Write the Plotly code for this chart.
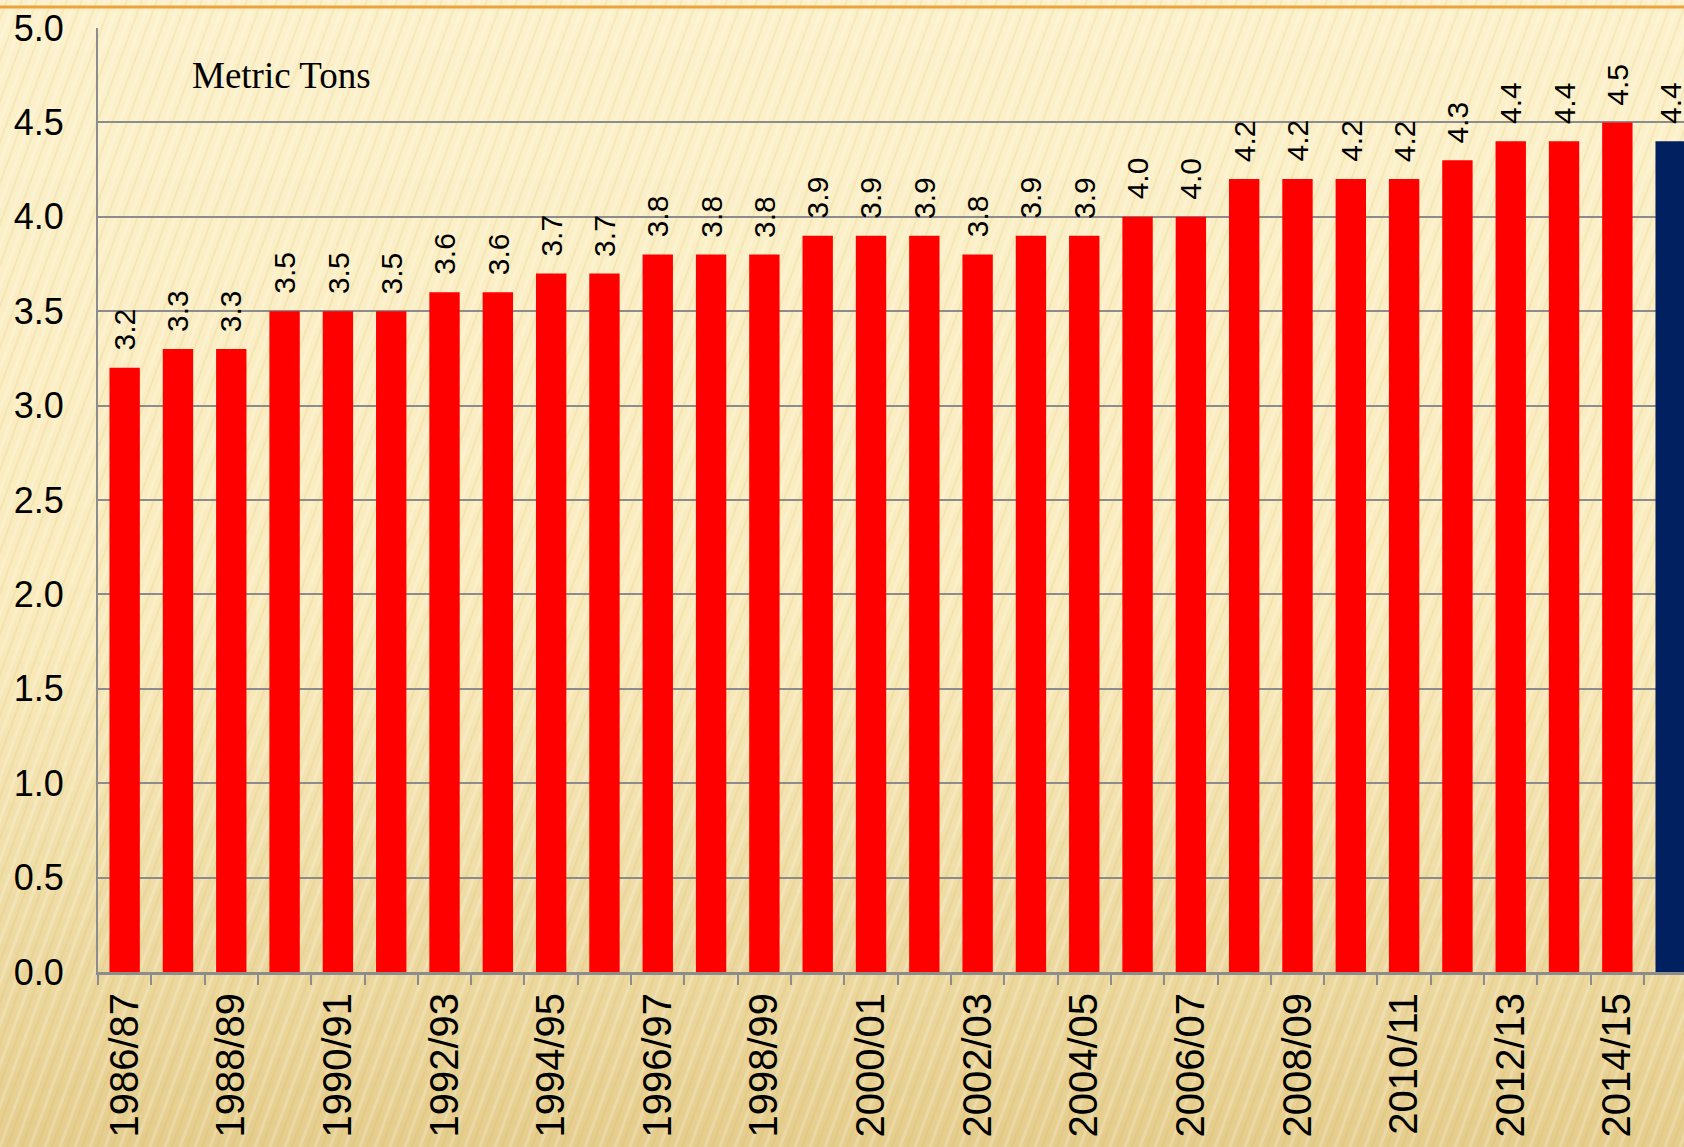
import plotly.graph_objects as go

categories = ["1986/87", "1987/88", "1988/89", "1989/90", "1990/91", "1991/92",
              "1992/93", "1993/94", "1994/95", "1995/96", "1996/97", "1997/98",
              "1998/99", "1999/00", "2000/01", "2001/02", "2002/03", "2003/04",
              "2004/05", "2005/06", "2006/07", "2007/08", "2008/09", "2009/10",
              "2010/11", "2011/12", "2012/13", "2013/14", "2014/15", "2015/16"]
values = [3.2, 3.3, 3.3, 3.5, 3.5, 3.5, 3.6, 3.6, 3.7, 3.7, 3.8, 3.8, 3.8, 3.9,
          3.9, 3.9, 3.8, 3.9, 3.9, 4.0, 4.0, 4.2, 4.2, 4.2, 4.2, 4.3, 4.4, 4.4,
          4.5, 4.4]
ytick_vals = [0.0, 0.5, 1.0, 1.5, 2.0, 2.5, 3.0, 3.5, 4.0, 4.5, 5.0]
unit_label = "Metric Tons"

RED = "#FF0000"
NAVY = "#002060"
GRID = "#8C8C8C"
bar_colors = [RED] * (len(values) - 1) + [NAVY]
tick_text = [c if i % 2 == 0 else "" for i, c in enumerate(categories)]

W, H = 1684, 1147
ML, MT, MB, MR = 98, 28, 175, 0
PW, PH = W - ML - MR, H - MT - MB


def px_x(x):
    return (x - ML) / PW


def px_y(y):
    return (H - MB - y) / PH


fig = go.Figure()
fig.add_trace(go.Bar(
    x=categories, y=values,
    marker=dict(color=bar_colors, line=dict(width=0)),
    hoverinfo="x+y",
))

# data labels
for c, v in zip(categories, values):
    fig.add_annotation(
        x=c, y=v, text=f"{v:.1f}", textangle=-90, showarrow=False,
        xanchor="center", yanchor="bottom", yshift=15,
        font=dict(family="Liberation Sans, Arial", size=30, color="black"),
    )

fig.add_annotation(
    xref="paper", yref="paper",
    x=px_x(281), y=px_y(75),
    text=unit_label, showarrow=False, xanchor="center", yanchor="middle",
    font=dict(family="Liberation Serif, Times New Roman", size=37, color="black"),
)


# background gradient
def lerp(a, b, t):
    return tuple(round(a[i] + (b[i] - a[i]) * t) for i in range(3))


top_c = (252, 241, 203)
mid_c = (250, 236, 190)
bot_c = (229, 205, 140)
n = 90
shapes = []
for k in range(n):
    t = (k + 0.5) / n
    if t < 0.5:
        col = lerp(top_c, mid_c, t / 0.5)
    else:
        col = lerp(mid_c, bot_c, ((t - 0.5) / 0.5) ** 1.2)
    py0 = k / n * H
    py1 = (k + 1) / n * H + 1
    shapes.append(dict(
        type="rect", xref="paper", yref="paper", layer="below",
        x0=px_x(0), x1=px_x(W),
        y0=px_y(py1), y1=px_y(py0),
        fillcolor="rgb(%d,%d,%d)" % col, line=dict(width=0),
    ))

# subtle diagonal texture
dx = 420
xs = -dx
while xs < W + 20:
    shapes.append(dict(
        type="line", xref="paper", yref="paper", layer="below",
        x0=px_x(xs), y0=px_y(H), x1=px_x(xs + dx), y1=px_y(0),
        line=dict(color="rgba(255,255,255,0.22)", width=3),
    ))
    shapes.append(dict(
        type="line", xref="paper", yref="paper", layer="below",
        x0=px_x(xs + 7), y0=px_y(H), x1=px_x(xs + 7 + dx), y1=px_y(0),
        line=dict(color="rgba(190,160,80,0.10)", width=2),
    ))
    xs += 15

# orange rule at top
shapes.append(dict(
    type="line", xref="paper", yref="paper", layer="above",
    x0=px_x(0), x1=px_x(W), y0=px_y(7), y1=px_y(7),
    line=dict(color="#EFA236", width=3),
))

fig.update_layout(
    width=W, height=H,
    margin=dict(l=ML, r=MR, t=MT, b=MB, pad=0),
    paper_bgcolor="rgb(%d,%d,%d)" % bot_c,
    plot_bgcolor="rgba(0,0,0,0)",
    bargap=0.43,
    showlegend=False,
    shapes=shapes,
    font=dict(family="Liberation Sans, Arial", color="black"),
)
fig.update_xaxes(
    type="category",
    range=[-0.5, 29.25],
    tickmode="array", tickvals=categories, ticktext=tick_text,
    tickangle=-90, tickson="boundaries",
    ticks="outside", ticklen=10, tickwidth=2, tickcolor=GRID,
    showline=True, linecolor=GRID, linewidth=3,
    showgrid=False, zeroline=False,
    ticklabelstandoff=2,
    tickfont=dict(family="Liberation Sans, Arial", size=40, color="black"),
)
fig.update_yaxes(
    range=[0, 5], tickmode="array", tickvals=ytick_vals,
    tickformat=".1f",
    showgrid=True, gridcolor=GRID, gridwidth=2,
    showline=True, linecolor=GRID, linewidth=2,
    zeroline=False, ticks="",
    ticklabelstandoff=25,
    tickfont=dict(family="Liberation Sans, Arial", size=36, color="black"),
)

fig.write_html(
    "out.html",
    config={"displayModeBar": False},
    post_script="document.body.style.margin='0';document.body.style.padding='0';"
                "document.body.style.overflow='hidden';",
)
